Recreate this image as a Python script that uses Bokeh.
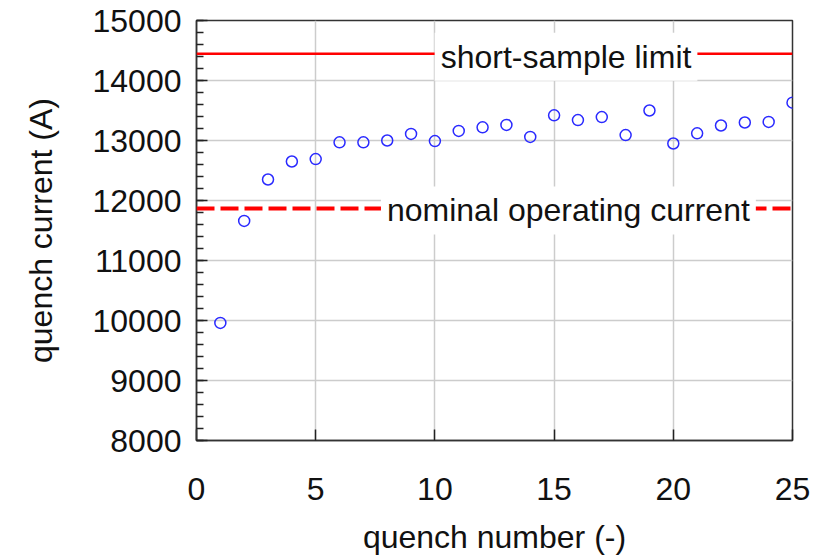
from bokeh.plotting import figure
from bokeh.models import Span, Label, SingleIntervalTicker, Range1d
from bokeh.embed import file_html
from bokeh.resources import INLINE

# data
quench_number = list(range(1, 26))
quench_current = [9960, 11660, 12350, 12650, 12690, 12970, 12970, 13000, 13110, 12990,
                  13160, 13220, 13260, 13060, 13420, 13340, 13390, 13090, 13500, 12950,
                  13120, 13250, 13300, 13310, 13630]
short_sample_limit = 14445
nominal_current = 11867
x_label = "quench number (-)"
y_label = "quench current (A)"
limit_text = "short-sample limit"
nominal_text = "nominal operating current"

FONT = "Liberation Sans"
FS = "32px"

p = figure(width=828, height=557, output_backend="svg", toolbar_location=None,
           x_range=Range1d(0, 25), y_range=Range1d(8000, 15000),
           min_border_left=196, min_border_top=20, min_border_right=36, min_border_bottom=116)

p.outline_line_color = "#333333"
p.outline_line_width = 1.5
p.background_fill_color = "white"
p.border_fill_color = "white"

p.xaxis.ticker = SingleIntervalTicker(interval=5, num_minor_ticks=0)
p.yaxis.ticker = SingleIntervalTicker(interval=1000, num_minor_ticks=5)

for ax in (p.xaxis[0], p.yaxis[0]):
    ax.axis_line_color = "#333333"
    ax.axis_line_width = 1.5
    ax.major_tick_line_color = "#222222"
    ax.major_tick_line_width = 1.5
    ax.minor_tick_line_color = "#222222"
    ax.minor_tick_line_width = 1.5
    ax.major_tick_out = 0
    ax.minor_tick_out = 0
    ax.major_label_text_font = FONT
    ax.major_label_text_font_size = FS
    ax.major_label_text_color = "#111111"
    ax.axis_label_text_font = FONT
    ax.axis_label_text_font_size = FS
    ax.axis_label_text_font_style = "normal"
    ax.axis_label_text_color = "#111111"

p.xaxis.major_tick_in = 11
p.xaxis.minor_tick_in = 0
p.yaxis.major_tick_in = 11
p.yaxis.minor_tick_in = 7
p.xaxis.major_label_standoff = 37
p.yaxis.major_label_standoff = 15
p.xaxis.axis_label = x_label
p.yaxis.axis_label = y_label
p.xaxis.axis_label_standoff = 16
p.yaxis.axis_label_standoff = 31

p.grid.grid_line_color = "#cccccc"
p.grid.grid_line_width = 1.5

limit_span = Span(location=short_sample_limit, dimension="width",
                  line_color="#ff0000", line_width=2.5)
nominal_span = Span(location=nominal_current, dimension="width",
                    line_color="#ff0000", line_width=4, line_dash="18 6")
p.add_layout(limit_span)
p.add_layout(nominal_span)

p.scatter(quench_number, quench_current, marker="circle", size=11,
          fill_color=None, line_color="#2a2aff", line_width=1.5)

lab1 = Label(x=15.5, y=short_sample_limit, text=limit_text, text_align="center",
             text_baseline="middle", y_offset=-3, text_font=FONT, text_font_size=FS,
             text_color="#111111", background_fill_color="white", padding=6)
lab2 = Label(x=15.6, y=nominal_current, text=nominal_text, text_align="center",
             text_baseline="middle", y_offset=-2, text_font=FONT, text_font_size=FS,
             text_color="#111111", background_fill_color="white", padding=6)
p.add_layout(lab1)
p.add_layout(lab2)

open("out.html", "w").write(file_html(p, INLINE))
